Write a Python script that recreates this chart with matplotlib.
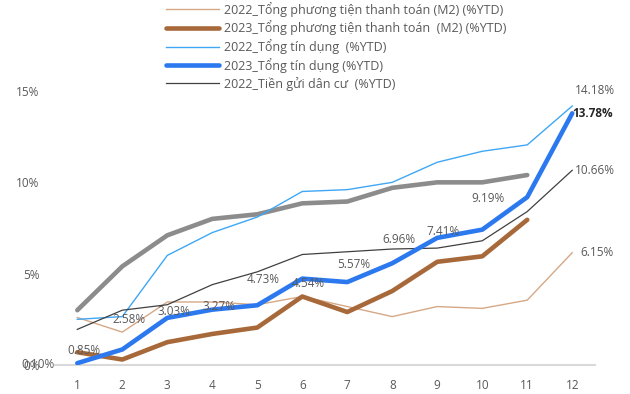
import matplotlib.pyplot as plt
import numpy as np

plt.rcParams['font.family'] = ['Open Sans', 'DejaVu Sans']

months = list(range(1, 13))

m2_2022 = [2.6, 1.8, 3.45, 3.45, 3.3, 3.75, 3.2, 2.65, 3.2, 3.1, 3.55, 6.15]
m2_2023 = [0.7, 0.3, 1.25, 1.7, 2.05, 3.75, 2.9, 4.05, 5.65, 5.95, 7.95]
credit_2022 = [2.5, 2.65, 6.0, 7.25, 8.1, 9.5, 9.6, 10.0, 11.1, 11.7, 12.05, 14.18]
credit_2023 = [0.10, 0.85, 2.58, 3.03, 3.27, 4.73, 4.54, 5.57, 6.96, 7.41, 9.19, 13.78]
deposit_2022 = [1.95, 3.0, 3.3, 4.4, 5.1, 6.05, 6.2, 6.35, 6.4, 6.8, 8.4, 10.66]
deposit_2023 = [3.0, 5.4, 7.1, 8.0, 8.25, 8.85, 8.95, 9.7, 10.0, 10.0, 10.4]

labels = [
    "2022_Tổng phương tiện thanh toán (M2) (%YTD)",
    "2023_Tổng phương tiện thanh toán  (M2) (%YTD)",
    "2022_Tổng tín dụng  (%YTD)",
    "2023_Tổng tín dụng (%YTD)",
    "2022_Tiền gửi dân cư  (%YTD)",
]

txt = "#595959"
fs = 8.5

fig = plt.figure(figsize=(6.3, 3.94), dpi=100)
ax = fig.add_axes([0.087, 0.0736, 0.857, 0.6954])

ax.plot(months[:11], deposit_2023, color="#8c8c8c", lw=3.3, solid_capstyle="round", zorder=2)
l1, = ax.plot(months, m2_2022, color="#d6a886", lw=1.0, zorder=3)
l2, = ax.plot(months[:11], m2_2023, color="#a8693a", lw=3.3, solid_capstyle="round", zorder=4)
l3, = ax.plot(months, credit_2022, color="#3fa7f5", lw=1.0, zorder=3)
l5, = ax.plot(months, deposit_2022, color="#404040", lw=0.9, zorder=3)
l4, = ax.plot(months, credit_2023, color="#2b78ef", lw=3.3, solid_capstyle="round", zorder=5)

# value labels for 2023 credit, placed to the left of each point
for m, v in zip(months[:11], credit_2023[:11]):
    ax.annotate(f"{v:.2f}%", (m, v), xytext=(-16, -1), textcoords="offset points",
                ha="right", va="center", fontsize=fs, color=txt, zorder=6)
ax.annotate(f"{credit_2023[-1]:.2f}%", (12, credit_2023[-1]), xytext=(0, 0),
            textcoords="offset points", ha="left", va="center", fontsize=fs,
            color="#262626", fontweight="bold", zorder=6)
ax.annotate(f"{credit_2022[-1]:.2f}%", (12, credit_2022[-1]), xytext=(2, 11),
            textcoords="offset points", ha="left", va="center", fontsize=fs, color=txt)
ax.annotate(f"{deposit_2022[-1]:.2f}%", (12, deposit_2022[-1]), xytext=(2, 0),
            textcoords="offset points", ha="left", va="center", fontsize=fs, color=txt)
ax.annotate(f"{m2_2022[-1]:.2f}%", (12, m2_2022[-1]), xytext=(6, 0),
            textcoords="offset points", ha="left", va="center", fontsize=fs, color=txt)

ax.set_xlim(0.5, 12.5)
ax.set_ylim(0, 15)
ax.set_xticks(months)
ax.set_yticks([0, 5, 10, 15])
ax.set_yticklabels(["0%", "5%", "10%", "15%"])
ax.tick_params(axis="both", length=0, labelsize=fs, colors=txt)
ax.tick_params(axis="y", pad=11)
ax.tick_params(axis="x", pad=10)
for s in ["top", "right", "left"]:
    ax.spines[s].set_visible(False)
ax.spines["bottom"].set_color("#d9d9d9")
ax.spines["bottom"].set_linewidth(1.5)

fig.legend([l1, l2, l3, l4, l5], labels, loc="upper left",
           bbox_to_anchor=(0.256, 1.008), frameon=False, fontsize=9,
           labelcolor=txt, handlelength=4.2, handletextpad=0.4,
           labelspacing=0.3, borderaxespad=0)

fig.savefig("out.png", dpi=100)
